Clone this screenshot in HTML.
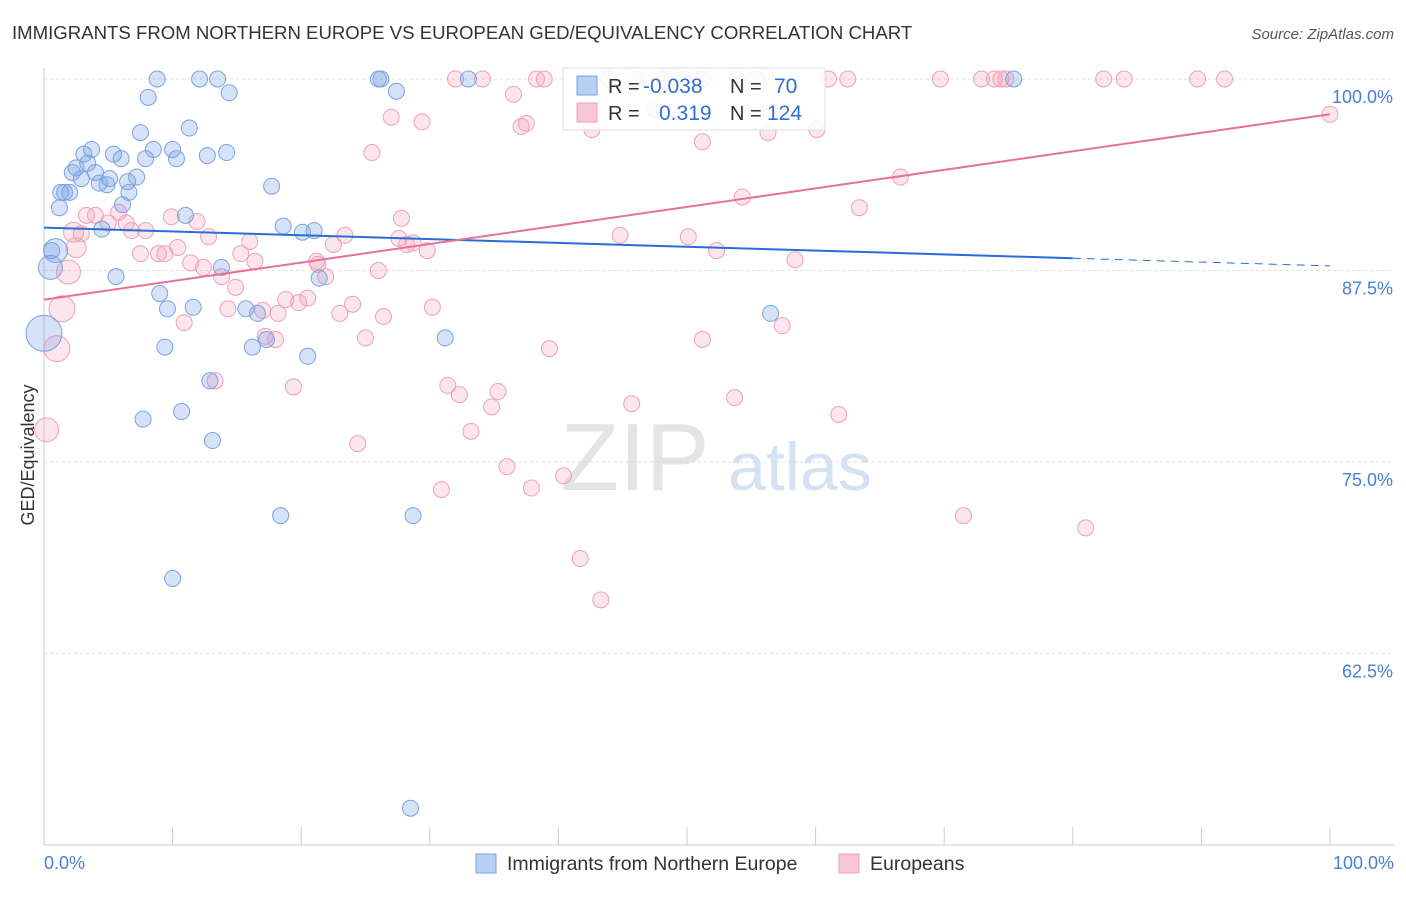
<!DOCTYPE html>
<html><head><meta charset="utf-8"><style>
body{margin:0;background:#fff;font-family:"Liberation Sans",sans-serif}
svg text{font-family:"Liberation Sans",sans-serif}
</style></head><body>
<svg id="chart" width="1406" height="892" viewBox="0 0 1406 892" xmlns="http://www.w3.org/2000/svg">
<text x="12" y="39" font-size="18.6" fill="#333">IMMIGRANTS FROM NORTHERN EUROPE VS EUROPEAN GED/EQUIVALENCY CORRELATION CHART</text>
<text x="1394" y="39" font-size="15" fill="#555" font-style="italic" text-anchor="end">Source: ZipAtlas.com</text>
<g>
<text x="635" y="490" font-size="96" fill="#e4e4e4" font-family="Liberation Serif,serif" text-anchor="middle">ZIP</text>
<text x="800" y="490" font-size="68" fill="#d4e2f4" text-anchor="middle">atlas</text>
</g>
<g id="grid"></g>
<g id="axes"></g>
<g id="pts"></g>
<g id="lines"></g>
<g>
<rect x="563" y="68" width="262" height="62" fill="#fff" fill-opacity="0.85" stroke="#ddd"/>
<rect x="577" y="76" width="20" height="19" fill="#b7cff3" stroke="#7aa3e0"/>
<rect x="577" y="103" width="20" height="19" fill="#f9c6d6" stroke="#eea0b8"/>
<text x="608" y="93" font-size="20" fill="#333">R =</text><text x="643" y="93" font-size="21" fill="#2f6fd3">-0.038</text>
<text x="730" y="93" font-size="20" fill="#333">N =</text><text x="774" y="93" font-size="21" fill="#2f6fd3">70</text>
<text x="608" y="120" font-size="20" fill="#333">R =</text><text x="659" y="120" font-size="21" fill="#2f6fd3">0.319</text>
<text x="730" y="120" font-size="20" fill="#333">N =</text><text x="767" y="120" font-size="21" fill="#2f6fd3">124</text>
</g>
<text transform="translate(34,455) rotate(-90)" font-size="18" fill="#333" text-anchor="middle">GED/Equivalency</text>
<text x="44" y="869" font-size="18" fill="#4a7fd6">0.0%</text>
<text x="1394" y="869" font-size="18" fill="#4a7fd6" text-anchor="end">100.0%</text>
<g>
<rect x="476" y="854" width="20" height="19" fill="#b7cff3" stroke="#7aa3e0"/>
<text x="507" y="870" font-size="19.5" fill="#333">Immigrants from Northern Europe</text>
<rect x="839" y="854" width="20" height="19" fill="#f9c6d6" stroke="#eea0b8"/>
<text x="870" y="870" font-size="19.5" fill="#333">Europeans</text>
</g>
</svg>
<script>
const yTicks=[100,87.5,75,62.5];
const yTickLabels=["100.0%","87.5%","75.0%","62.5%"];
const xTicks=[0,10,20,30,40,50,60,70,80,90,100];
const blueX=[8.8,12.1,13.5,26.0,26.2,33.0,75.4,8.1,14.4,27.4,7.5,11.3,8.5,10.0,3.7,5.4,3.1,6.0,7.9,10.3,12.7,14.2,2.5,2.2,3.4,4.0,2.9,5.1,7.2,4.3,4.9,6.5,1.3,2.0,1.6,6.6,1.2,6.1,11.0,17.7,18.6,20.1,21.0,4.5,0.9,0.5,5.6,13.8,9.0,9.6,11.6,15.7,16.6,21.4,17.3,16.2,9.4,20.5,31.2,56.5,12.9,10.7,7.7,13.1,18.4,28.7,10.0,28.5,0,0.6];
const blueY=[100,100,100,100,100,100,100,98.8,99.1,99.2,96.5,96.8,95.4,95.4,95.4,95.1,95.1,94.8,94.8,94.8,95.0,95.2,94.2,93.9,94.5,93.9,93.5,93.5,93.6,93.2,93.1,93.3,92.6,92.6,92.6,92.6,91.6,91.8,91.1,93.0,90.4,90.0,90.1,90.2,88.8,87.7,87.1,87.7,86.0,85.0,85.1,85.0,84.7,87.0,83.0,82.5,82.5,81.9,83.1,84.7,80.3,78.3,77.8,76.4,71.5,71.5,67.4,52.4,83.4,88.8];
const blueSize=[8,8,8,8,8,8,8,8,8,8,8,8,8,8,8,8,8,8,8,8,8,8,8,8,8,8,8,8,8,8,8,8,8,8,8,8,8,8,8,8,8,8,8,8,12,12,8,8,8,8,8,8,8,8,8,8,8,8,8,8,8,8,8,8,8,8,8,8,18,8];
const pinkX=[32.0,34.1,38.3,38.9,46.0,48.2,49.7,51.2,53.9,55.4,61.0,62.5,69.7,72.9,73.9,74.4,74.8,82.4,84.0,89.7,91.8,43.9,100,36.5,27.0,29.4,37.1,37.5,42.6,60.1,56.3,51.2,47.5,25.5,54.3,63.4,66.6,27.8,3.3,4.0,5.8,6.4,5.0,2.3,2.9,2.5,7.9,9.9,11.9,12.8,6.8,7.5,8.9,9.4,10.4,11.4,12.4,13.8,14.9,15.3,16.0,16.4,21.3,21.9,21.2,22.5,23.4,27.6,28.2,28.7,29.8,26.0,44.8,50.1,52.3,58.4,1.9,1.4,1.0,0.2,10.9,14.3,17.0,18.2,18.8,19.8,20.5,23.0,24.0,26.4,30.2,25.0,17.2,18.0,39.3,51.2,57.4,13.3,19.4,31.4,32.3,35.3,34.8,45.7,53.7,61.8,33.2,24.4,36.0,30.9,37.9,40.4,41.7,43.3,71.5,81.0];
const pinkY=[100,100,100,100,100,100,100,100,100,100,100,100,100,100,100,100,100,100,100,100,100,100,97.7,99.0,97.5,97.2,96.9,97.1,96.7,96.7,96.5,95.9,98.0,95.2,92.3,91.6,93.6,90.9,91.1,91.1,91.3,90.6,90.6,90.0,89.9,89.0,90.1,91.0,90.7,89.7,90.1,88.6,88.6,88.6,89.0,88.0,87.7,87.1,86.4,88.6,89.4,88.1,87.9,87.1,88.1,89.2,89.8,89.6,89.2,89.3,88.8,87.5,89.8,89.7,88.8,88.2,87.4,85.0,82.4,77.1,84.1,85.0,84.9,84.7,85.6,85.4,85.7,84.7,85.3,84.5,85.1,83.1,83.2,83.0,82.4,83.0,83.9,80.3,79.9,80.0,79.4,79.6,78.6,78.8,79.2,78.1,77.0,76.2,74.7,73.2,73.3,74.1,68.7,66.0,71.5,70.7];
const pinkSize=[8,8,8,8,8,8,8,8,8,8,8,8,8,8,8,8,8,8,8,8,8,8,8,8,8,8,8,8,8,8,8,8,8,8,8,8,8,8,8,8,8,8,8,10,8,10,8,8,8,8,8,8,8,8,8,8,8,8,8,8,8,8,8,8,8,8,8,8,8,8,8,8,8,8,8,8,12,13,13,12,8,8,8,8,8,8,8,8,8,8,8,8,8,8,8,8,8,8,8,8,8,8,8,8,8,8,8,8,8,8,8,8,8,8,8,8];
const blueTrend=[90.3,88.3,87.8]; const blueTrendX=[0,80,100];
const pinkTrend=[85.6,97.7]; const pinkTrendX=[0,100];
const NS="http://www.w3.org/2000/svg";
function xs(v){return 44+v*12.86;}
function ys(v){return 79+(100-v)*15.32;}
function mk(t,a,p){const e=document.createElementNS(NS,t);for(const k in a)e.setAttribute(k,a[k]);p.appendChild(e);return e;}
const grid=document.getElementById('grid'),axes=document.getElementById('axes'),pts=document.getElementById('pts'),lines=document.getElementById('lines');
yTicks.forEach((v,i)=>{
 const l=mk('line',{x1:44,x2:1394,y1:ys(v),y2:ys(v),stroke:'#ddd','stroke-dasharray':'3,3'},grid);
 
 
 const t=mk('text',{x:1393,y:ys(v)+24,'font-size':18,fill:'#4a7fd6','text-anchor':'end'},axes);
 t.textContent=yTickLabels[i];
 
 
});
const ya=mk('line',{x1:44,x2:44,y1:68,y2:845,stroke:'#ccc'},axes);


const xa=mk('line',{x1:44,x2:1394,y1:845,y2:845,stroke:'#ccc'},axes);


xTicks.forEach(v=>{
 const t=mk('line',{x1:xs(v),x2:xs(v),y1:827,y2:845,stroke:'#ccc'},axes);
 
 
});
function dots(X,Y,S,fill,stroke,name){
 X.forEach((x,i)=>{
  const c=mk('circle',{cx:xs(x),cy:ys(Y[i]),r:S[i],fill:fill,stroke:stroke,'stroke-width':1},pts);
  
  
 });
}
dots(pinkX,pinkY,pinkSize,'rgba(244,160,188,0.28)','#eea0b8','europeans-point');
dots(blueX,blueY,blueSize,'rgba(120,160,230,0.3)','#7aa3e0','northern-europe-point');
const b1=mk('line',{x1:xs(blueTrendX[0]),y1:ys(blueTrend[0]),x2:xs(blueTrendX[1]),y2:ys(blueTrend[1]),stroke:'#2a6dd6','stroke-width':2},lines);


const b2=mk('line',{x1:xs(blueTrendX[1]),y1:ys(blueTrend[1]),x2:xs(blueTrendX[2]),y2:ys(blueTrend[2]),stroke:'#2a6dd6','stroke-width':1,'stroke-dasharray':'8,6'},lines);


const p1=mk('line',{x1:xs(pinkTrendX[0]),y1:ys(pinkTrend[0]),x2:xs(pinkTrendX[1]),y2:ys(pinkTrend[1]),stroke:'#e8719a','stroke-width':2},lines);


</script>
</body></html>
